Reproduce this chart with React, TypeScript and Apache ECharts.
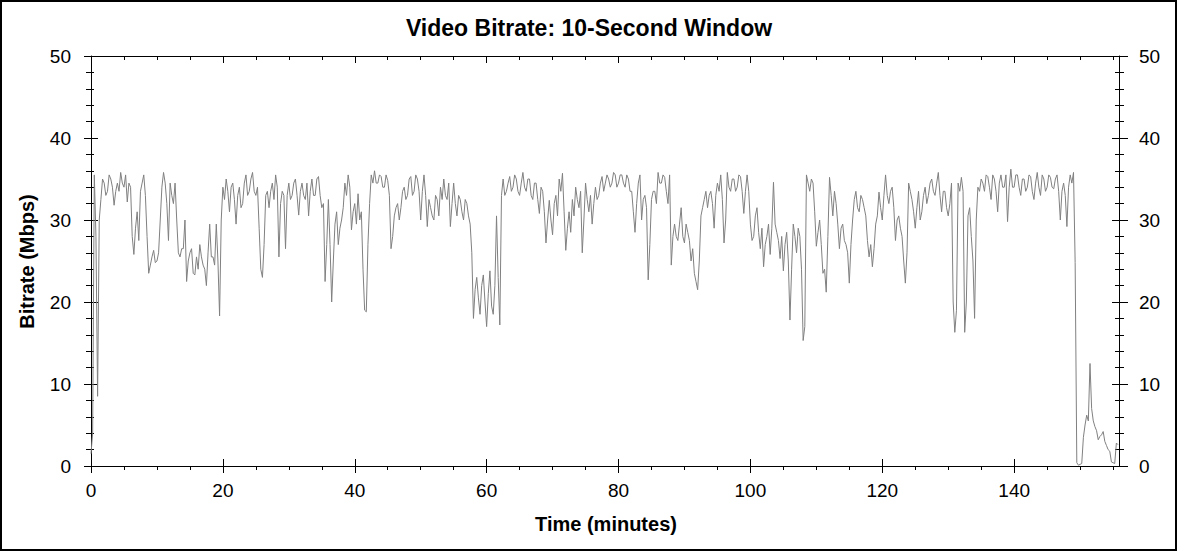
import { useEffect, useRef } from "react";
import * as echarts from "echarts";

// Bitrate (Mbps).
// "On" arrays: samples at every half minute (t = 0, 0.5, 1, ...).
// "Mid" arrays: samples a quarter minute later (t = 0.25, 0.75, ...).
const HALF_MINUTE = 0.5;
const QUARTER_MINUTE = 0.25;

const bitrateOn000to020 = [
  1.5, 35.5, 8.5, 32.5, 34.5, 33.5, 35, 31.8, 34.5, 35.8,
  34, 32.2, 34, 25.8, 31, 33.5, 35.5, 28, 24.5, 26.3,
  25, 30, 35.8, 32, 34.5, 32, 30, 25.5, 26.5, 22.5,
  26, 23.5, 25.5, 27, 24.5, 22, 29.5, 25.5, 29.5, 18.3,
];
const bitrateMid000to020 = [
  4, 28, 30, 35, 33, 35.5, 34, 33.5, 33.5, 34.5,
  35.5, 34.5, 28, 29, 27.5, 34.5, 33, 23.5, 25.5, 24.8,
  26, 34, 34.5, 27.5, 33, 34.5, 26, 26.5, 30, 25,
  26.5, 23.3, 24, 25.5, 24, 26, 25.5, 24.5, 25, 30,
];
const bitrateOn020to040 = [
  34, 35, 31, 34.5, 29.5, 34, 32, 35.5, 33.5, 35.8,
  33, 29, 23, 33, 31.5, 34.5, 35.5, 25.5, 33.5, 26.5,
  34.5, 33, 35, 30.6, 34.5, 32.5, 30.5, 35, 33, 35.3,
  31.5, 22.5, 32.5, 20, 29.5, 27, 30, 34.5, 35.5, 28.8,
];
const bitrateMid020to040 = [
  32.5, 33.5, 34, 32.5, 33, 31.5, 34.5, 33, 35, 33.5,
  34, 24, 27, 33.5, 33.5, 32.5, 34, 32, 33, 33,
  32.5, 34.5, 33, 33.5, 33, 34.5, 33.5, 33, 35, 33,
  32, 27, 27, 25, 31, 29, 31.5, 33, 34, 31,
];
const bitrateOn040to060 = [
  32, 33.2, 31, 19, 27, 35.5, 36, 34.5, 35.3, 34,
  34.8, 26.5, 30.5, 32, 31.5, 34, 33, 35.3, 33.5, 35,
  30, 35.5, 29.2, 31.5, 30, 32.5, 34, 35, 32.5, 29.2,
  34.5, 30.5, 32.5, 30, 32, 29.5, 18, 23, 18.5, 23.3,
];
const bitrateMid040to060 = [
  29.5, 30, 24, 18.8, 32, 34.5, 34.5, 35.5, 34, 35.5,
  33, 28, 31.5, 30, 33.5, 32.5, 35, 33, 35.5, 33.5,
  33.5, 33, 32.5, 30.5, 33, 30.5, 32.5, 33, 34.5, 32,
  32, 33, 31, 32.5, 30.5, 26, 21.5, 20.5, 22, 20,
];
const bitrateOn060to080 = [
  17, 23.8, 18.5, 30.5, 17.2, 35, 33.5, 35.3, 34, 35,
  33, 35.8, 33.5, 35, 32.5, 34.5, 30.8, 33.5, 27.2, 32.4,
  28.2, 33, 35, 35.7, 26.3, 31, 32.5, 34, 31.5, 26,
  34.5, 31, 29.5, 34, 33, 35.3, 34.5, 35, 34.5, 35.5,
];
const bitrateMid060to080 = [
  21, 19.5, 22, 23, 33, 33, 34.5, 33.5, 35.5, 33.5,
  34.5, 34, 35, 33, 34.5, 32.5, 34, 31, 30, 30,
  32, 30.5, 33.5, 31, 29, 28.5, 30.5, 32.5, 33.5, 30,
  32.5, 33, 32, 32.5, 34.5, 33.5, 35.5, 34, 35.8, 34,
];
const bitrateOn080to100 = [
  34.5, 35.5, 34, 35, 33.5, 28.5, 34.5, 30, 33, 22.7,
  32.5, 33.5, 35.8, 34.5, 35.2, 32, 24.5, 29.5, 27.5, 31.5,
  27.2, 28.5, 25, 23.5, 21.5, 30.5, 32.5, 31.5, 33.5, 29,
  34.5, 35.5, 27.2, 35.8, 33.5, 35, 34, 35.3, 30.8, 35.5,
];
const bitrateMid080to100 = [
  35.5, 34.5, 35.5, 33.5, 31, 32, 35.5, 32.5, 31.5, 27,
  33.5, 32, 34.5, 35.5, 33.5, 35.5, 28, 28, 29.5, 28,
  29.5, 27.5, 26.5, 22.5, 25, 31.5, 33.5, 33, 32, 33,
  33.5, 32.5, 30, 34, 35, 33.5, 35.5, 33.5, 33.5, 33.5,
];
const bitrateOn100to120 = [
  29.5, 28, 31.5, 26.5, 24.3, 28, 25.8, 34.6, 28.5, 25.3,
  23.8, 28.5, 17.8, 29.5, 26, 28, 15.3, 35.5, 33.5, 34.5,
  26.8, 30, 23.5, 21.2, 35.2, 30.5, 32, 26.5, 29.5, 27,
  22.3, 30, 33.5, 31, 32.5, 30.5, 25.5, 24.3, 29.5, 33.4,
];
const bitrateMid100to120 = [
  27.5, 30.5, 28.5, 29, 27, 29.5, 29, 29.5, 27.5, 28,
  27, 25, 24, 28, 29, 24, 17, 34.5, 35, 31,
  28.5, 27, 24, 28, 33, 33.5, 29.5, 29, 27.5, 26,
  27, 32.5, 31.5, 33, 31.5, 27.5, 27, 26.5, 30.5, 31.5,
];
const bitrateOn120to140 = [
  30, 35.5, 32, 34, 27.5, 30.5, 28, 22.3, 34.5, 32.5,
  29, 33.5, 31, 34, 33, 35, 33, 35.8, 31, 33.5,
  30.5, 34.5, 16.3, 34.5, 35.2, 16.3, 30.5, 28, 18, 34,
  35, 33.5, 35.3, 32.5, 35, 31, 35.5, 34, 29.8, 36.2,
];
const bitrateMid120to140 = [
  33, 33, 33.5, 31.5, 30, 29, 25, 26, 33.5, 31,
  31.5, 30, 33, 32, 34.5, 33.5, 34.5, 33, 33.5, 31.5,
  32, 20, 19, 33.5, 33.5, 20, 31.5, 25, 30, 33.5,
  34.5, 35.5, 34, 35.5, 33.5, 34.5, 34, 35.5, 34, 34,
];
const bitrateOn140toEnd = [
  34, 35.5, 33, 35, 34, 35.3, 32.5, 35.8, 33, 35,
  34, 35.2, 33.8, 35.5, 30, 34.5, 29.2, 35.5, 35.8, 0.4,
  0.2, 3.5, 6.2, 12.5, 5.5, 4.3, 3.6, 4.2, 2.5, 1.8,
  0.4, 2.8,
];
const bitrateMid140toEnd = [
  35.5, 34, 35, 33.5, 35.5, 33.5, 34.5, 34, 35.5, 33.5,
  35.5, 34, 35, 33.5, 33.5, 33, 34, 34.5, 24.8, 0.1,
  0.3, 5, 5.5, 7, 4.8, 3.2, 3.8, 3, 2, 0.5,
  0.3, 2.6,
];

const X_MAX = 155.9;
const xMajorTicks = [0, 20, 40, 60, 80, 100, 120, 140];
const xMinorTicks = [
  5, 10, 15, 25, 30, 35, 45, 50, 55, 65, 70, 75, 85, 90, 95,
  105, 110, 115, 125, 130, 135, 145, 150, 155,
];
const Y_MIN = 0;
const Y_MAX = 50;
const Y_INTERVAL = 10;

const TITLE = "Video Bitrate: 10-Second Window";
const X_NAME = "Time (minutes)";
const Y_NAME = "Bitrate (Mbps)";

const FONT = '"Liberation Sans", Arial, sans-serif';

export default function App() {
  const ref = useRef<HTMLDivElement>(null);

  useEffect(() => {
    const el = ref.current;
    if (!el) return;
    const chart = echarts.init(el, null, { renderer: "svg" });

    const onValues = [
      ...bitrateOn000to020,
      ...bitrateOn020to040,
      ...bitrateOn040to060,
      ...bitrateOn060to080,
      ...bitrateOn080to100,
      ...bitrateOn100to120,
      ...bitrateOn120to140,
      ...bitrateOn140toEnd,
    ];
    const midValues = [
      ...bitrateMid000to020,
      ...bitrateMid020to040,
      ...bitrateMid040to060,
      ...bitrateMid060to080,
      ...bitrateMid080to100,
      ...bitrateMid100to120,
      ...bitrateMid120to140,
      ...bitrateMid140toEnd,
    ];
    const data: number[][] = [];
    onValues.forEach((v, i) => {
      data.push([i * HALF_MINUTE, v]);
      if (i < midValues.length) data.push([i * HALF_MINUTE + QUARTER_MINUTE, midValues[i]]);
    });

    const black = { color: "#000", width: 1 };
    const xCommon = {
      type: "value" as const,
      min: 0,
      max: X_MAX,
      splitLine: { show: false },
    };
    const yCommon = {
      type: "value" as const,
      min: Y_MIN,
      max: Y_MAX,
      interval: Y_INTERVAL,
      splitLine: { show: false },
    };
    const tickLabel = { color: "#000", fontSize: 19, fontFamily: FONT };

    chart.setOption({
      animation: false,
      backgroundColor: "#fff",
      grid: { left: 91, top: 56, width: 1028, height: 410, containLabel: false },
      xAxis: [
        {
          ...xCommon,
          position: "bottom",
          axisLine: { show: true, onZero: false, lineStyle: black },
          axisTick: { show: true, customValues: xMajorTicks, length: 7, lineStyle: black },
          axisLabel: { ...tickLabel, customValues: xMajorTicks, margin: 15 },
        },
        {
          ...xCommon,
          position: "bottom",
          axisLine: { show: false, onZero: false },
          axisTick: { show: true, inside: true, customValues: xMajorTicks, length: 7, lineStyle: black },
          axisLabel: { show: false },
        },
        {
          ...xCommon,
          position: "bottom",
          axisLine: { show: false, onZero: false },
          axisTick: { show: true, customValues: xMinorTicks, length: 4, lineStyle: black },
          axisLabel: { show: false },
        },
        {
          ...xCommon,
          position: "top",
          axisLine: { show: true, onZero: false, lineStyle: black },
          axisTick: { show: true, inside: true, customValues: xMajorTicks, length: 7, lineStyle: black },
          axisLabel: { show: false },
        },
        {
          ...xCommon,
          position: "top",
          axisLine: { show: false, onZero: false },
          axisTick: { show: true, inside: true, customValues: xMinorTicks, length: 4, lineStyle: black },
          axisLabel: { show: false },
        },
      ],
      yAxis: [
        {
          ...yCommon,
          position: "left",
          axisLine: { show: true, onZero: false, lineStyle: black },
          axisTick: { show: true, length: 7, lineStyle: black },
          minorTick: { show: true, splitNumber: 5, length: 5, lineStyle: black },
          axisLabel: { ...tickLabel, margin: 20 },
        },
        {
          ...yCommon,
          position: "left",
          axisLine: { show: false, onZero: false },
          axisTick: { show: true, inside: true, length: 7, lineStyle: black },
          minorTick: { show: true, splitNumber: 5, length: 3, lineStyle: black },
          axisLabel: { show: false },
        },
        {
          ...yCommon,
          position: "right",
          axisLine: { show: true, onZero: false, lineStyle: black },
          axisTick: { show: true, length: 9, lineStyle: black },
          minorTick: { show: true, splitNumber: 5, length: 5, lineStyle: black },
          axisLabel: { ...tickLabel, margin: 20 },
        },
        {
          ...yCommon,
          position: "right",
          axisLine: { show: false, onZero: false },
          axisTick: { show: true, inside: true, length: 7, lineStyle: black },
          minorTick: { show: true, splitNumber: 5, length: 4, lineStyle: black },
          axisLabel: { show: false },
        },
      ],
      series: [
        {
          type: "line",
          xAxisIndex: 0,
          yAxisIndex: 0,
          data,
          showSymbol: false,
          symbol: "none",
          lineStyle: { color: "#808080", width: 1 },
          silent: true,
        },
      ],
      graphic: [
        {
          type: "rect",
          shape: { x: 1, y: 1, width: 1175, height: 549 },
          style: { fill: "none", stroke: "#000", lineWidth: 2 },
          silent: true,
        },
        {
          type: "text",
          x: 589,
          y: 27.5,
          style: {
            text: TITLE,
            fill: "#000",
            fontSize: 23,
            fontWeight: "bold",
            fontFamily: FONT,
            align: "center",
            verticalAlign: "middle",
          },
        },
        {
          type: "text",
          x: 606,
          y: 523.5,
          style: {
            text: X_NAME,
            fill: "#000",
            fontSize: 20,
            fontWeight: "bold",
            fontFamily: FONT,
            align: "center",
            verticalAlign: "middle",
          },
        },
        {
          type: "text",
          x: 27,
          y: 261.5,
          rotation: Math.PI / 2,
          style: {
            text: Y_NAME,
            fill: "#000",
            fontSize: 20,
            fontWeight: "bold",
            fontFamily: FONT,
            align: "center",
            verticalAlign: "middle",
          },
        },
      ],
    });

    return () => chart.dispose();
  }, []);

  return (
    <div
      ref={ref}
      style={{
        position: "fixed",
        left: 0,
        top: 0,
        width: 1178,
        height: 552,
        background: "#fff",
      }}
    />
  );
}
